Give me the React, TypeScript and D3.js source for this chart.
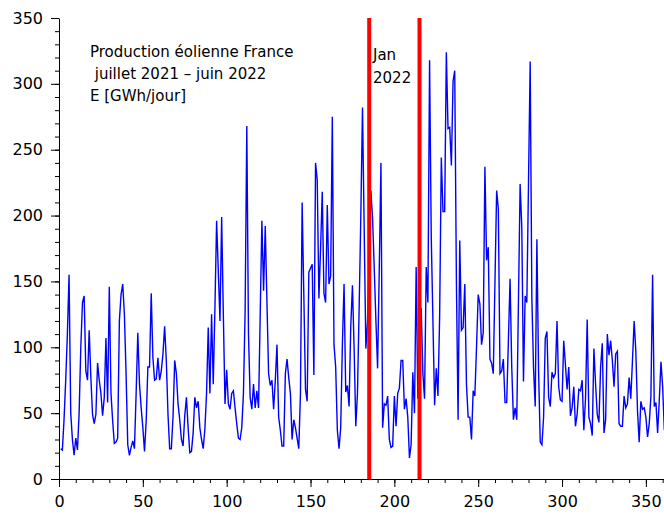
import React, { useRef, useEffect } from 'react';
import * as d3 from 'd3';

// daily wind production, GWh/day, starting 1 July 2021 (day 1)
const production = [
  23, 22, 45, 75, 110, 155, 50, 30, 18, 31,
  22, 50, 100, 134, 139, 82, 75, 113, 77, 49,
  42, 49, 88, 75, 65, 48, 62, 107, 58, 146,
  65, 44, 27, 28, 31, 120, 140, 148, 125, 80,
  26, 18, 24, 29, 23, 65, 111, 72, 54, 39,
  21, 44, 85, 85, 141, 92, 75, 76, 92, 75,
  82, 95, 116, 90, 49, 23, 23, 47, 90, 80,
  57, 45, 30, 25, 48, 62, 39, 20, 21, 35,
  62, 54, 59, 39, 30, 23, 38, 65, 115, 65,
  125, 72, 130, 196, 158, 120, 199, 125, 57, 83,
  57, 53, 65, 67, 54, 42, 31, 30, 39, 65,
  128, 268, 110, 62, 53, 72, 54, 67, 54, 125,
  196, 143, 192, 135, 80, 71, 75, 53, 75, 102,
  47, 37, 25, 25, 80, 91, 77, 65, 30, 45,
  39, 31, 23, 65, 210, 140, 68, 59, 157, 160,
  163, 79, 240, 227, 137, 175, 218, 141, 134, 208,
  148, 154, 275, 102, 85, 37, 23, 39, 102, 148,
  66, 71, 55, 116, 147, 99, 40, 65, 130, 200,
  282, 190, 99, 120, 170, 219, 198, 160, 120, 84,
  160, 240, 39, 57, 56, 63, 30, 24, 25, 63,
  40, 65, 69, 90, 90, 53, 61, 47, 16, 26,
  81, 50, 161, 61, 110, 130, 80, 61, 161, 134,
  318, 184, 120, 56, 84, 63, 123, 244, 203, 203,
  324, 266, 267, 238, 302, 310, 150, 45, 181, 113,
  115, 148, 72, 47, 47, 30, 67, 63, 100, 140,
  133, 102, 111, 237, 166, 176, 91, 88, 80, 150,
  219, 205, 80, 82, 91, 58, 58, 105, 152, 85,
  45, 54, 45, 135, 224, 191, 74, 139, 134, 225,
  317, 137, 84, 55, 182, 82, 28, 26, 47, 107,
  112, 62, 55, 81, 77, 80, 120, 70, 60, 59,
  105, 87, 68, 85, 48, 54, 70, 40, 49, 68,
  67, 75, 37, 61, 121, 47, 42, 33, 99, 72,
  49, 43, 85, 103, 35, 45, 110, 94, 105, 90,
  70, 95, 97, 42, 40, 40, 63, 54, 57, 77,
  61, 90, 120, 97, 52, 28, 59, 53, 54, 47,
  32, 42, 63, 155, 55, 58, 35, 60, 89, 70,
  37,
];

const monthMarkers = [185, 215];
const xMajorTicks = [0, 50, 100, 150, 200, 250, 300, 350];
const yMajorTicks = [0, 50, 100, 150, 200, 250, 300, 350];
const titleLines = ['Production éolienne France', ' juillet 2021 – juin 2022', 'E [GWh/jour]'];
const markerLabel = ['Jan', '2022'];

const FONT = '"DejaVu Sans", sans-serif';

const App = () => {
  const svgRef = useRef(null);

  useEffect(() => {
    const width = 664;
    const height = 514;

    const svg = d3.select(svgRef.current)
      .attr('width', width)
      .attr('height', height);
    svg.selectAll('*').remove();

    const x = d3.scaleLinear().domain([0, 361.4]).range([59, 665]);
    const y = d3.scaleLinear().domain([0, 350]).range([479, 18]);

    // minor ticks every 10
    const xMinor = svg.append('g')
      .attr('transform', `translate(0,${y(0)})`)
      .call(d3.axisBottom(x).tickValues(d3.range(0, 370, 10)).tickSize(4).tickSizeOuter(0).tickFormat(() => ''));
    xMinor.select('.domain').remove();

    const yMinor = svg.append('g')
      .attr('transform', `translate(${x(0)},0)`)
      .call(d3.axisLeft(y).tickValues(d3.range(0, 360, 10)).tickSize(4).tickSizeOuter(0).tickFormat(() => ''));
    yMinor.select('.domain').remove();

    // X axis
    svg.append('g')
      .attr('transform', `translate(0,${y(0)})`)
      .call(d3.axisBottom(x).tickValues(xMajorTicks).tickSize(8).tickSizeOuter(0).tickPadding(9))
      .attr('font-family', FONT)
      .attr('font-size', 16)
      .attr('color', '#000');

    // Y axis
    svg.append('g')
      .attr('transform', `translate(${x(0)},0)`)
      .call(d3.axisLeft(y).tickValues(yMajorTicks).tickSize(8).tickSizeOuter(0).tickPadding(8))
      .attr('font-family', FONT)
      .attr('font-size', 16)
      .attr('color', '#000');

    svg.selectAll('.tick line, .domain').attr('stroke', '#000');

    // the data
    const line = d3.line()
      .x((d, i) => x(i + 1))
      .y(d => y(d));

    svg.append('path')
      .datum(production)
      .attr('fill', 'none')
      .attr('stroke', '#0000ff')
      .attr('stroke-width', 1.4)
      .attr('d', line);

    // January markers
    svg.selectAll('line.marker')
      .data(monthMarkers)
      .join('line')
      .attr('class', 'marker')
      .attr('x1', d => x(d))
      .attr('x2', d => x(d))
      .attr('y1', y(350))
      .attr('y2', y(0))
      .attr('stroke', '#ff0000')
      .attr('stroke-width', 4);

    svg.append('g')
      .selectAll('text')
      .data(markerLabel)
      .join('text')
      .attr('x', 373)
      .attr('y', (d, i) => 60 + i * 23)
      .attr('font-family', FONT)
      .attr('font-size', 15)
      .text(d => d);

    // title block
    svg.append('g')
      .selectAll('text')
      .data(titleLines)
      .join('text')
      .attr('x', 90)
      .attr('y', (d, i) => 57 + i * 22)
      .attr('font-family', FONT)
      .attr('font-size', 15)
      .style('white-space', 'pre')
      .text(d => d);
  }, []);

  return (
    <div style={{ position: 'absolute', left: 0, top: 0, width: 664, height: 514, background: '#fff', overflow: 'hidden' }}>
      <svg ref={svgRef} style={{ display: 'block' }}></svg>
    </div>
  );
};

export default App;
